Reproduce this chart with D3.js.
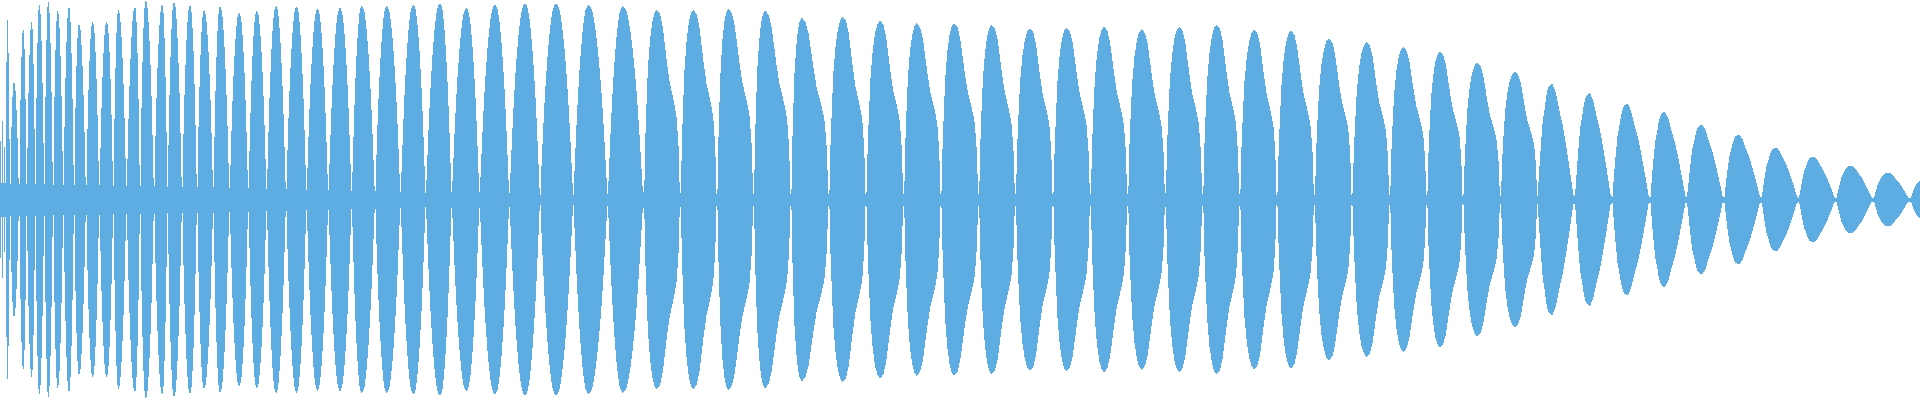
<!DOCTYPE html>
<html>
<head>
<meta charset="utf-8">
<script src="https://cdn.jsdelivr.net/npm/d3@7"></script>
<style>
html,body{margin:0;padding:0;background:#ffffff;overflow:hidden}
svg{display:block}
</style>
</head>
<body>
<svg id="chart" width="1920" height="400"></svg>
<script>
// Zero-crossing positions of the waveform (sample index)
const crossings = [0,1.7,3.3,5.7,10,19,26.7,35.3,44.3,53,63.3,74,86,99.3,113.3,126.5,140,154,167.5,182,197,213.3,229.5,248.3,266.7,286,306.5,328.3,351.7,375,400.5,425.7,451.7,479.5,509.3,540,573.3,607.7,643.3,680,716.7,753.3,790.7,828.5,865.7,903.3,940.7,978.3,1015,1052.7,1090,1127.3,1165,1202.3,1239.3,1276.7,1314,1351.7,1389.3,1426.5,1462.7,1500,1537.3,1574.7,1612,1650,1686.7,1724,1761.3,1798.7,1836,1873.3,1910,1947];
// Peak amplitude of each lobe
const peaks = [63,84,53,181,118,171,178,195,198,189,193,176,178,178,190,193,199,195,198,195,190,194,187,189,194,193,191,192,194,194,195,196.5,191.5,195,196,196,194.5,193.5,190,190,191,189,182,183,179,176.5,176.5,175,171.5,172,173,170.5,173,175,170,169,161,157.5,152.5,148,137,128,116,106.5,96,88,75,65,52,43,34,27,21];
// Position of each lobe's peak
const peakAt = [0.7,2.2,4.3,7.3,14,23.3,31.7,39.3,48.3,57.7,69,79,92.7,106.7,118.3,135,145.7,162.3,174,190,204,220,239.3,256.7,276,296.5,317.5,340,361.7,386.7,413.3,440,466.5,495,525,556,588.3,622.7,656.7,693.3,728.3,765,801.7,842.7,880,916.7,954,991.7,1030,1066.7,1104,1141.7,1179.3,1216.7,1254.3,1291,1329,1366.7,1403.3,1440,1477.3,1515,1552.3,1590,1627.7,1665,1702.3,1739.3,1776.7,1814,1851.7,1889,1925.5];
// Residual amplitude at the zero crossing that starts each lobe
const necks = [17,17,17,17,16,16,16,16,16,15,15,15,15,15,14,14,14,14,13,13,13,13,12,12,11,11,10,10,9,9,8,7,8,8,7,5,5,6,8,7,6,6,6,6,6,6,6,6,6,6,6,6,7,6,6,5,5,5,5,5,4,4,4,4,3,3,3,3,3,2,2,2,2];
// Lobe profiles (fraction of lobe width, fraction of peak), read from single lobes
const shapeRound = [[0,0],[.05,.18],[.1,.36],[.15,.52],[.2,.65],[.25,.76],[.3,.85],[.35,.92],[.4,.97],[.45,.99],[.5,1],[.55,.99],[.6,.97],[.65,.92],[.7,.85],[.75,.76],[.8,.65],[.85,.52],[.9,.36],[.95,.18],[1,0]];
const shapeShoulder = [[0,0],[.03,.06],[.05,.28],[.09,.5],[.13,.69],[.19,.84],[.25,.93],[.31,.98],[.38,1],[.47,.975],[.54,.91],[.6,.81],[.66,.71],[.73,.61],[.81,.54],[.87,.48],[.91,.43],[.96,.28],[1,0]];
const shapeTaper = [[0,0],[.04,.18],[.08,.38],[.11,.51],[.15,.67],[.2,.77],[.24,.87],[.29,.95],[.33,.98],[.42,1],[.51,.92],[.6,.77],[.69,.64],[.78,.46],[.87,.26],[.96,.05],[1,0]];
const shoulderFrom = 38, taperFrom = 62;

const W = 1920, H = 400;
const color = "#5dade2";

function makeShape(tpl) {
  const peakIdx = d3.maxIndex(tpl, d => d[1]);
  return {
    tp: tpl[peakIdx][0],
    f: d3.scaleLinear().domain(tpl.map(d => d[0])).range(tpl.map(d => d[1])).clamp(true)
  };
}
const shapes = [makeShape(shapeRound), makeShape(shapeShoulder), makeShape(shapeTaper)];

const nL = peaks.length;
const cols = d3.range(W + 1).map(c => {
  const cc = Math.min(c, W - 1);
  let k = -1;
  for (let j = 1; j < crossings.length; j++) {
    if (crossings[j] >= cc && crossings[j] < cc + 1) { k = j; break; }
  }
  if (k >= 0) return {i: c, a: necks[Math.min(k, nL - 1)]};
  const xc = cc + 0.5;
  let i = d3.bisectRight(crossings, xc) - 1;
  i = Math.max(0, Math.min(nL - 1, i));
  const s = crossings[i], e = crossings[i + 1], pk = peakAt[i];
  const sh = shapes[i >= taperFrom ? 2 : (i >= shoulderFrom ? 1 : 0)];
  let u;
  if (xc <= pk) u = (xc - s) / (pk - s) * sh.tp;
  else u = sh.tp + (xc - pk) / (e - pk) * (1 - sh.tp);
  const a = Math.max(necks[i], peaks[i] * sh.f(u));
  return {i: c, a};
});

const x = d3.scaleLinear().domain([0, W]).range([0, W]);
const y = d3.scaleLinear().domain([-200, 200]).range([399.5, -0.5]);

const svg = d3.select("#chart");
const area = d3.area()
  .x(d => x(d.i))
  .y0(d => y(-d.a))
  .y1(d => y(d.a))
  .curve(d3.curveStepAfter);

svg.append("path")
  .datum(cols)
  .attr("d", area)
  .attr("fill", color)
  .attr("shape-rendering", "crispEdges");
</script>
</body>
</html>
